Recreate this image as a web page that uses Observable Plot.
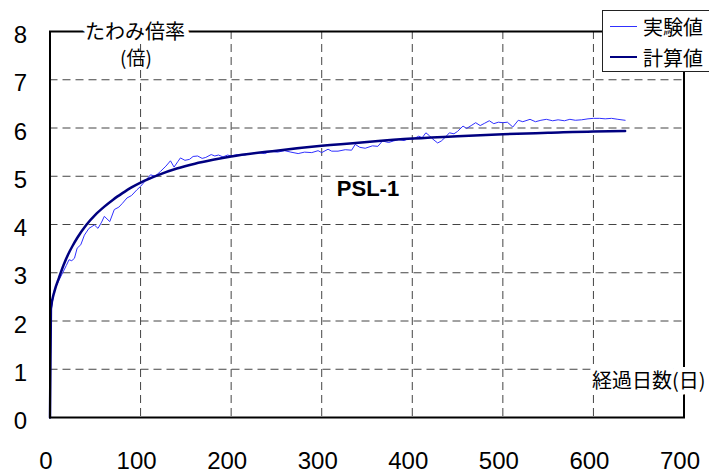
<!DOCTYPE html>
<html>
<head>
<meta charset="utf-8">
<script src="https://cdn.jsdelivr.net/npm/d3@7"></script>
<script src="https://cdn.jsdelivr.net/npm/@observablehq/plot@0.6"></script>
<style>
  html, body { margin: 0; padding: 0; background: white; overflow: hidden; }
  #wrap { position: relative; width: 709px; height: 474px; overflow: hidden; }
  #legend {
    position: absolute; left: 602px; top: 10px; width: 130px; height: 62px;
    border: 1px solid #222; background: white; box-sizing: border-box;
    font-family: "Noto Sans CJK JP", sans-serif; font-size: 20px; color: black;
  }
  .row { position: absolute; left: 0; height: 26px; display: flex; align-items: center; }
  .sw { width: 27px; margin-left: 7px; margin-right: 6px; }
</style>
</head>
<body>
<div id="wrap">
  <div id="chart"></div>
  <div id="legend">
    <div class="row" style="top:2px"><div class="sw" id="sw1"></div><span id="l1"></span></div>
    <div class="row" style="top:33px"><div class="sw" id="sw2"></div><span id="l2"></span></div>
  </div>
</div>
<script>
// ---- data ----
const xTicks = [0, 100, 200, 300, 400, 500, 600, 700];
const yTicks = [0, 1, 2, 3, 4, 5, 6, 7, 8];
const seriesNames = ["実験値", "計算値"];
const yTitle = ["たわみ倍率", "(倍)"];
const xTitle = "経過日数(日)";
const panelLabel = "PSL-1";

// 計算値 (calculated)
const calcDays = [0, 1, 5, 10, 15, 20, 25, 30, 40, 50, 60, 70, 80, 90, 100, 120, 140, 160, 180, 200, 250, 300, 350, 400, 450, 500, 550, 600, 635];
const calcVals = [0, 2.25, 2.62, 2.9, 3.16, 3.38, 3.56, 3.72, 3.99, 4.2, 4.37, 4.52, 4.65, 4.77, 4.87, 5.03, 5.16, 5.26, 5.34, 5.41, 5.53, 5.63, 5.71, 5.78, 5.83, 5.87, 5.9, 5.93, 5.94];

// 実験値 (experimental)
const expDays = [0, 1, 5, 10, 14, 18, 21, 24, 27, 30, 34, 38, 43, 49, 53, 57, 60, 66, 71, 76, 80, 85, 90, 96, 100,
  105, 111, 116, 122, 128, 133, 137, 141, 144, 149, 154, 158, 163, 168, 172, 178, 182, 186, 191, 196, 200,
  207, 215, 222, 230, 237, 244, 251, 259, 266, 274, 281, 289, 296, 300, 307, 311, 318, 326, 333, 337, 342, 348,
  356, 362, 367, 374, 379, 385, 391, 396, 401, 407, 411, 415, 419, 422, 428, 432, 436, 441, 446, 450, 456, 460,
  465, 470, 475, 480, 485, 490, 495, 500, 505, 511, 517, 522, 530, 536, 542, 548, 555, 561, 568, 574, 580, 587,
  594, 600, 607, 613, 620, 627, 635];
const expVals = [0, 2.2, 2.65, 2.85, 3.0, 3.15, 3.27, 3.25, 3.3, 3.51, 3.58, 3.78, 3.92, 3.99, 3.92, 4.05, 4.17, 4.06, 4.31, 4.36, 4.44, 4.55, 4.6, 4.72, 4.79,
  4.9, 5.03, 5.0, 5.1, 5.21, 5.32, 5.19, 5.3, 5.38, 5.33, 5.35, 5.41, 5.42, 5.37, 5.39, 5.45, 5.42, 5.44, 5.4, 5.44, 5.42,
  5.45, 5.44, 5.47, 5.49, 5.47, 5.52, 5.5, 5.53, 5.5, 5.47, 5.5, 5.49, 5.53, 5.49, 5.56, 5.52, 5.52, 5.55, 5.54, 5.66, 5.6, 5.58,
  5.63, 5.62, 5.73, 5.7, 5.73, 5.76, 5.74, 5.78, 5.77, 5.83, 5.8, 5.9, 5.84, 5.78, 5.69, 5.73, 5.8, 5.9, 5.88, 5.93, 6.04, 5.99,
  6.05, 6.11, 6.05, 6.1, 6.15, 6.09, 6.12, 6.11, 6.12, 6.02, 6.16, 6.13, 6.18, 6.13, 6.16, 6.18, 6.15, 6.17, 6.15, 6.18, 6.16, 6.17,
  6.19, 6.2, 6.2, 6.19, 6.2, 6.18, 6.16];

const colors = ["#3030ff", "#000080"];
const widths = [1, 2.5];

const calc = calcDays.map((d, i) => ({day: d, v: calcVals[i]}));
const exp = expDays.map((d, i) => ({day: d, v: expVals[i]}));

const cjk = "'Noto Sans CJK JP', sans-serif";

const chart = Plot.plot({
  width: 709,
  height: 474,
  marginLeft: 49.5,
  marginRight: 25.5,
  marginTop: 31,
  marginBottom: 57,
  style: {fontFamily: "'Liberation Sans', Arial, sans-serif", background: "white", color: "black", overflow: "visible"},
  x: {domain: [0, 700], axis: null},
  y: {domain: [0, 8], axis: null},
  marks: [
    Plot.gridX(xTicks.slice(1, -1), {stroke: "#444", strokeOpacity: 1, strokeWidth: 1, strokeDasharray: "8,5"}),
    Plot.gridY(yTicks.slice(1, -1), {stroke: "#444", strokeOpacity: 1, strokeWidth: 1, strokeDasharray: "8,5"}),
    Plot.axisX(xTicks, {anchor: "bottom", tickSize: 0, tickPadding: 34, dx: -4, label: null, fontSize: 24, tickFormat: d => String(d)}),
    Plot.axisY(yTicks, {anchor: "left", tickSize: 0, tickPadding: 23, dy: 4, label: null, fontSize: 24, tickFormat: d => String(d)}),
    Plot.line(exp, {x: "day", y: "v", stroke: colors[0], strokeWidth: widths[0]}),
    Plot.line(calc, {x: "day", y: "v", stroke: colors[1], strokeWidth: widths[1], curve: "monotone-x"}),
    Plot.frame({stroke: "black", strokeWidth: 2}),
    Plot.text([yTitle[0]], {frameAnchor: "top-left", lineAnchor: "middle", dx: 85, dy: 1, text: d => d, fontSize: 20, fontFamily: cjk, fill: "black", stroke: "white", strokeWidth: 10, textAnchor: "middle"}),
    Plot.text([yTitle[1]], {frameAnchor: "top-left", lineAnchor: "middle", dx: 86, dy: 27, text: d => d, fontSize: 19, fontFamily: cjk, fill: "black", textAnchor: "middle"}),
    Plot.text([xTitle], {frameAnchor: "bottom-right", lineAnchor: "middle", dx: 21.5, dy: -35.5, text: d => d, fontSize: 20, fontFamily: cjk, fill: "black", stroke: "white", strokeWidth: 10, textAnchor: "end"}),
    Plot.text([panelLabel], {frameAnchor: "top-left", lineAnchor: "middle", dx: 318, dy: 157, text: d => d, fontSize: 22, fontWeight: "bold", fill: "black", textAnchor: "middle", letterSpacing: "1px"})
  ]
});
document.getElementById("chart").appendChild(chart);

// legend
document.getElementById("l1").textContent = seriesNames[0];
document.getElementById("l2").textContent = seriesNames[1];
document.getElementById("sw1").style.borderTop = widths[0] + "px solid " + colors[0];
document.getElementById("sw2").style.borderTop = widths[1] + "px solid " + colors[1];
</script>
</body>
</html>
